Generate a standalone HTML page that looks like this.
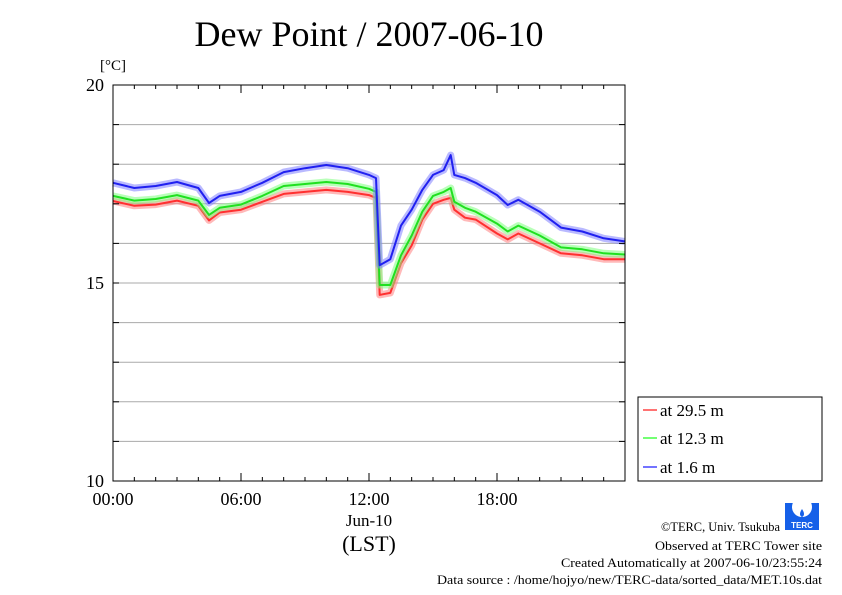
<!DOCTYPE html>
<html><head><meta charset="utf-8"><style>
body{margin:0;background:#fff;}
svg{display:block;font-family:"Liberation Serif",serif;}
</style></head><body>
<svg id="c" width="842" height="595" viewBox="0 0 842 595">
<text x="369" y="46" font-size="36" text-anchor="middle">Dew Point / 2007-06-10</text>
<text x="113" y="70" font-size="15" text-anchor="middle">[°C]</text>
<g id="grid"></g>
<g id="series"></g>
<rect x="113" y="85" width="512" height="396" fill="none" stroke="#000" stroke-width="1"/>
<g id="axes"></g>
<text x="369" y="526" font-size="17" text-anchor="middle">Jun-10</text>
<text x="369" y="551" font-size="22" text-anchor="middle">(LST)</text>
<g>
<rect x="638" y="397" width="184" height="84" fill="#fff" stroke="#000" stroke-width="1"/>
<g><line x1="643" y1="410" x2="657" y2="410" stroke="#f44" stroke-width="1.5"/><text x="660" y="416" font-size="17">at 29.5 m</text></g>
<g><line x1="643" y1="438" x2="657" y2="438" stroke="#4f4" stroke-width="1.5"/><text x="660" y="444" font-size="17">at 12.3 m</text></g>
<g><line x1="643" y1="467" x2="657" y2="467" stroke="#44f" stroke-width="1.5"/><text x="660" y="473" font-size="17">at 1.6 m</text></g>
</g>
<g>
<rect x="785" y="503" width="34" height="27" fill="#1560e8"/>
<circle cx="802" cy="507" r="10" fill="#fff"/>
<path d="M802 509 q-4 6 0 8 q4 -2 0 -8z" fill="#1560e8"/>
<text x="802" y="528" font-size="8" fill="#fff" text-anchor="middle" font-family="Liberation Sans,sans-serif" font-weight="bold">TERC</text>
</g>
<g font-size="13">
<text x="661" y="531" textLength="119" lengthAdjust="spacingAndGlyphs">©TERC, Univ. Tsukuba</text>
<text x="655" y="550" textLength="167" lengthAdjust="spacingAndGlyphs">Observed at TERC Tower site</text>
<text x="561" y="567" textLength="261" lengthAdjust="spacingAndGlyphs">Created Automatically at 2007-06-10/23:55:24</text>
<text x="437" y="584" textLength="385" lengthAdjust="spacingAndGlyphs">Data source : /home/hojyo/new/TERC-data/sorted_data/MET.10s.dat</text>
</g>
</svg>
<script>
const hours=[0,1,2,3,4,4.5,5,6,7,8,9,10,11,12,12.33,12.5,13,13.5,14,14.5,15,15.5,15.83,16,16.5,17,18,18.5,19,20,21,22,23,23.98];
const blue=[17.53,17.40,17.45,17.55,17.40,17.02,17.2,17.3,17.53,17.8,17.9,17.98,17.9,17.73,17.65,15.45,15.6,16.45,16.85,17.35,17.73,17.85,18.23,17.73,17.65,17.53,17.22,16.97,17.1,16.8,16.4,16.3,16.13,16.05];
const green=[17.2,17.08,17.12,17.22,17.08,16.72,16.9,16.98,17.2,17.45,17.5,17.55,17.5,17.38,17.3,14.95,14.95,15.7,16.2,16.8,17.2,17.3,17.4,17.05,16.9,16.8,16.5,16.3,16.45,16.2,15.9,15.85,15.75,15.72];
const red=[17.07,16.95,16.98,17.08,16.95,16.58,16.78,16.85,17.05,17.25,17.3,17.35,17.3,17.22,17.15,14.7,14.75,15.5,15.95,16.6,17.0,17.1,17.15,16.85,16.65,16.6,16.25,16.1,16.25,16.0,15.75,15.7,15.6,15.6];
const yTicks=[10,15,20];
const xTicks=["00:00","06:00","12:00","18:00"];
const NS="http://www.w3.org/2000/svg";
const X=h=>113+h*512/24, Y=v=>481-(v-10)*39.6;
function mk(t,a,p){const e=document.createElementNS(NS,t);for(const k in a)e.setAttribute(k,a[k]);p.appendChild(e);return e;}
const grid=document.getElementById('grid'),axes=document.getElementById('axes'),ser=document.getElementById('series');
for(let v=11;v<20;v++){const l=mk('line',{x1:113,x2:625,y1:Y(v),y2:Y(v),stroke:'#aaa','stroke-width':1},grid);

}
for(let v=10;v<=20;v++){mk('line',{x1:113,x2:119,y1:Y(v),y2:Y(v),stroke:'#000'},axes);mk('line',{x1:619,x2:625,y1:Y(v),y2:Y(v),stroke:'#000'},axes);}
yTicks.forEach(v=>{const t=mk('text',{x:104,y:Y(v)+6,'font-size':18,'text-anchor':'end'},axes);t.textContent=v;

});
for(let h=0;h<=24;h++){const len=h%6==0?8:4;mk('line',{x1:X(h),x2:X(h),y1:481,y2:481-len,stroke:'#000'},axes);mk('line',{x1:X(h),x2:X(h),y1:85,y2:85+len,stroke:'#000'},axes);}
xTicks.forEach((s,i)=>{const t=mk('text',{x:X(i*6),y:505,'font-size':18,'text-anchor':'middle'},axes);t.textContent=s;

});
[[red,'#ff3030','#ff8080','series-29.5m'],[green,'#20e020','#80ff80','series-12.3m'],[blue,'#2020f0','#8080ff','series-1.6m']].forEach(([d,c,cb,n])=>{
const pts=hours.map((h,i)=>X(h).toFixed(1)+','+Y(d[i]).toFixed(1)).join(' ');
const g=mk('g',{},ser);


mk('polyline',{points:pts,fill:'none',stroke:cb,'stroke-width':7,'stroke-opacity':0.55,'stroke-linejoin':'round'},g);
mk('polyline',{points:pts,fill:'none',stroke:c,'stroke-width':2,'stroke-linejoin':'round'},g);
});
</script>
</body></html>
